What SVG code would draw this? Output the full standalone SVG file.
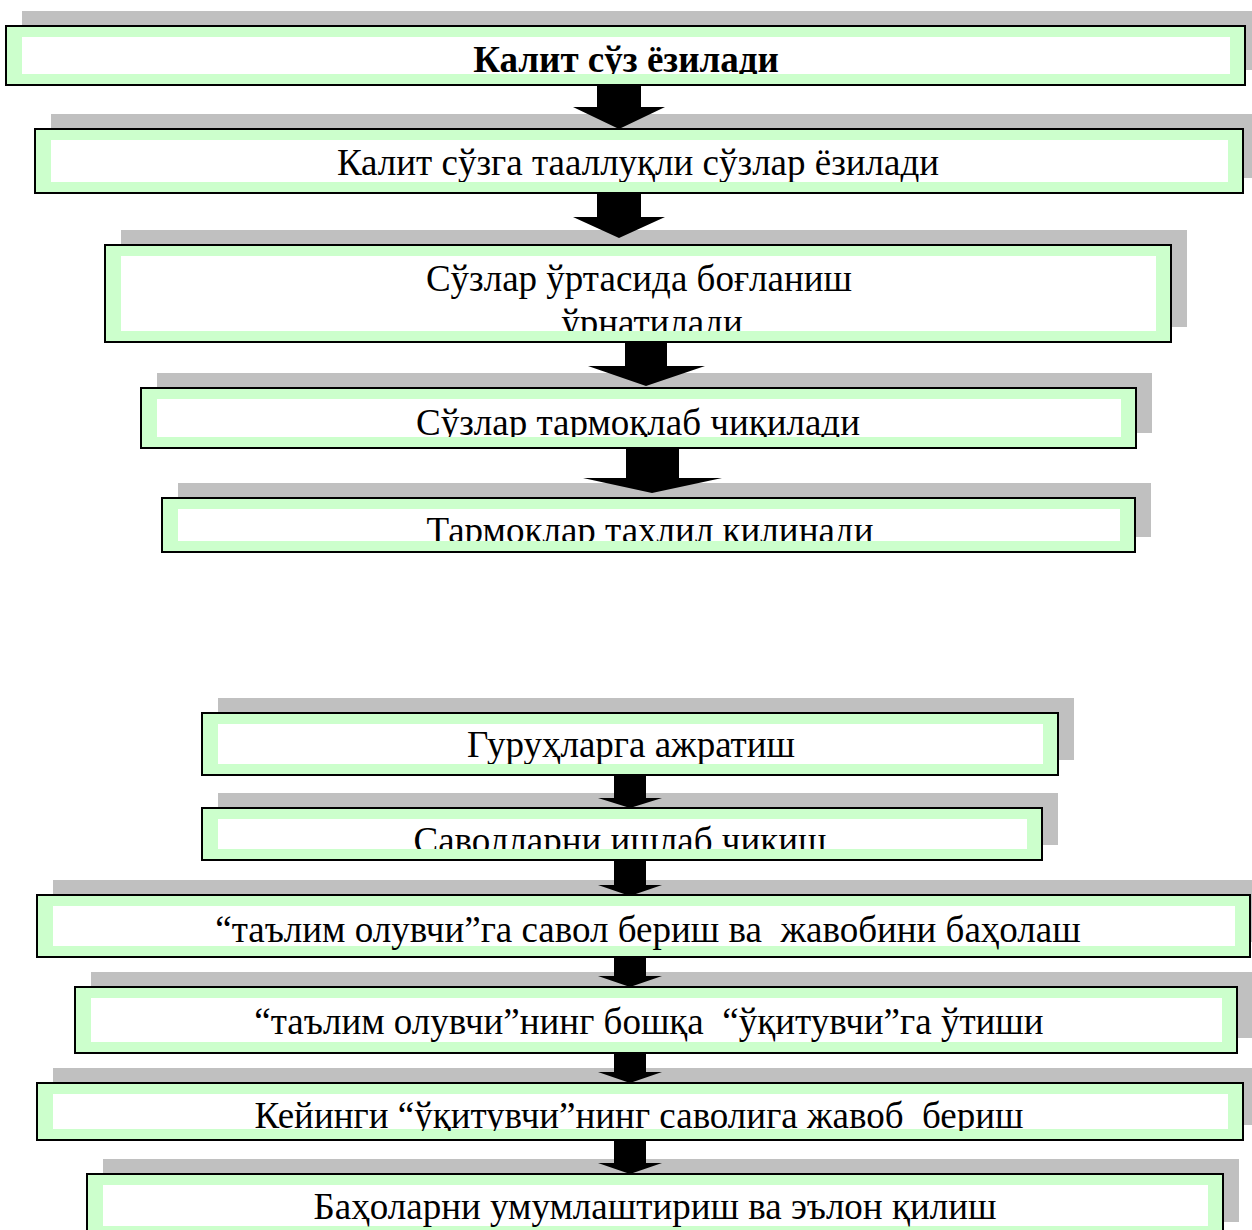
<svg xmlns="http://www.w3.org/2000/svg" width="1252" height="1230" viewBox="0 0 1252 1230">
<style>
.sh{fill:#c0c0c0}
.bx{fill:#ccffcc;stroke:#000;stroke-width:2}
.in{fill:#fff}
.t{font-family:"Liberation Serif","Times New Roman",serif;font-size:37px;fill:#000;text-anchor:middle;white-space:pre}
.b{font-weight:bold;font-size:37px}
.ar{fill:#000}
</style>
<defs>
<clipPath id="c1"><rect x="22" y="37" width="1208" height="37"/></clipPath>
<clipPath id="c2"><rect x="51" y="140" width="1177" height="42"/></clipPath>
<clipPath id="c3"><rect x="121" y="256" width="1035" height="75"/></clipPath>
<clipPath id="c4"><rect x="157" y="399" width="964" height="38"/></clipPath>
<clipPath id="c5"><rect x="178" y="509" width="942" height="32"/></clipPath>
<clipPath id="c6"><rect x="218" y="724" width="825" height="40"/></clipPath>
<clipPath id="c7"><rect x="218" y="819" width="809" height="30"/></clipPath>
<clipPath id="c8"><rect x="53" y="906" width="1182" height="50"/></clipPath>
<clipPath id="c9"><rect x="91" y="998" width="1131" height="44"/></clipPath>
<clipPath id="c10"><rect x="53" y="1094" width="1175" height="37"/></clipPath>
<clipPath id="c11"><rect x="103" y="1185" width="1105" height="44"/></clipPath>
</defs>

<g id="node1">
<rect class="sh" x="22" y="11" width="1239" height="59"/>
<rect class="bx" x="6" y="26" width="1239" height="59"/>
<rect class="in" x="22" y="37" width="1208" height="37"/>
<text class="t b" x="626" y="72" clip-path="url(#c1)">Калит сўз ёзилади</text>
</g>

<g id="node2">
<rect class="sh" x="51" y="114" width="1208" height="64"/>
<rect class="bx" x="35" y="129" width="1208" height="64"/>
<rect class="in" x="51" y="140" width="1177" height="42"/>
<text class="t" x="638" y="175" clip-path="url(#c2)">Калит сўзга тааллуқли сўзлар ёзилади</text>
</g>

<g id="node3">
<rect class="sh" x="121" y="230" width="1066" height="97"/>
<rect class="bx" x="105" y="245" width="1066" height="97"/>
<rect class="in" x="121" y="256" width="1035" height="75"/>
<g clip-path="url(#c3)">
<text class="t" x="639" y="291">Сўзлар ўртасида боғланиш</text>
<text class="t" x="652" y="335">ўрнатилади</text>
</g>
</g>

<g id="node4">
<rect class="sh" x="157" y="373" width="995" height="60"/>
<rect class="bx" x="141" y="388" width="995" height="60"/>
<rect class="in" x="157" y="399" width="964" height="38"/>
<text class="t" x="638" y="435" clip-path="url(#c4)">Сўзлар тармоқлаб чиқилади</text>
</g>

<g id="node5">
<rect class="sh" x="178" y="483" width="973" height="54"/>
<rect class="bx" x="162" y="498" width="973" height="54"/>
<rect class="in" x="178" y="509" width="942" height="32"/>
<text class="t" x="650" y="543" clip-path="url(#c5)">Тармоқлар таҳлил қилинади</text>
</g>

<g id="node6">
<rect class="sh" x="218" y="698" width="856" height="62"/>
<rect class="bx" x="202" y="713" width="856" height="62"/>
<rect class="in" x="218" y="724" width="825" height="40"/>
<text class="t" x="631" y="757" clip-path="url(#c6)">Гуруҳларга ажратиш</text>
</g>

<g id="node7">
<rect class="sh" x="218" y="793" width="840" height="52"/>
<rect class="bx" x="202" y="808" width="840" height="52"/>
<rect class="in" x="218" y="819" width="809" height="30"/>
<text class="t" x="620" y="853" clip-path="url(#c7)">Саволларни ишлаб чиқиш</text>
</g>

<g id="node8">
<rect class="sh" x="53" y="880" width="1213" height="62"/>
<rect class="bx" x="37" y="895" width="1213" height="62"/>
<rect class="in" x="53" y="906" width="1182" height="40"/>
<text class="t" x="648" y="942" clip-path="url(#c8)">“таълим олувчи”га савол бериш ва  жавобини баҳолаш</text>
</g>

<g id="node9">
<rect class="sh" x="91" y="972" width="1162" height="66"/>
<rect class="bx" x="75" y="987" width="1162" height="66"/>
<rect class="in" x="91" y="998" width="1131" height="44"/>
<text class="t" x="649" y="1034" clip-path="url(#c9)">“таълим олувчи”нинг бошқа  “ўқитувчи”га ўтиши</text>
</g>

<g id="node10">
<rect class="sh" x="53" y="1068" width="1206" height="57"/>
<rect class="bx" x="37" y="1083" width="1206" height="57"/>
<rect class="in" x="53" y="1094" width="1175" height="35"/>
<text class="t" x="639" y="1128" clip-path="url(#c10)">Кейинги “ўқитувчи”нинг саволига жавоб  бериш</text>
</g>

<g id="node11">
<rect class="sh" x="103" y="1159" width="1136" height="63"/>
<rect class="bx" x="87" y="1174" width="1136" height="63"/>
<rect class="in" x="103" y="1185" width="1105" height="41"/>
<text class="t" x="655" y="1219" clip-path="url(#c11)">Баҳоларни умумлаштириш ва эълон қилиш</text>
</g>

<g id="connectors">
<polygon class="ar" points="597,86 641,86 641,107 665,107 619,129 573,107 597,107"/>
<polygon class="ar" points="597,194 641,194 641,217 665,217 619,238 573,217 597,217"/>
<polygon class="ar" points="625,343 667,343 667,366 705,366 646,386 588,366 625,366"/>
<polygon class="ar" points="626,449 679,449 679,478 722,478 652,493 583,478 626,478"/>
<polygon class="ar" points="614,776 646,776 646,798 662,798 630,808 598,798 614,798"/>
<polygon class="ar" points="614,861 646,861 646,885 662,885 630,896 598,885 614,885"/>
<polygon class="ar" points="614,958 646,958 646,976 662,976 630,987 598,976 614,976"/>
<polygon class="ar" points="614,1054 646,1054 646,1072 662,1072 630,1083 598,1072 614,1072"/>
<polygon class="ar" points="614,1141 646,1141 646,1163 662,1163 630,1174 598,1163 614,1163"/>
</g>
</svg>
